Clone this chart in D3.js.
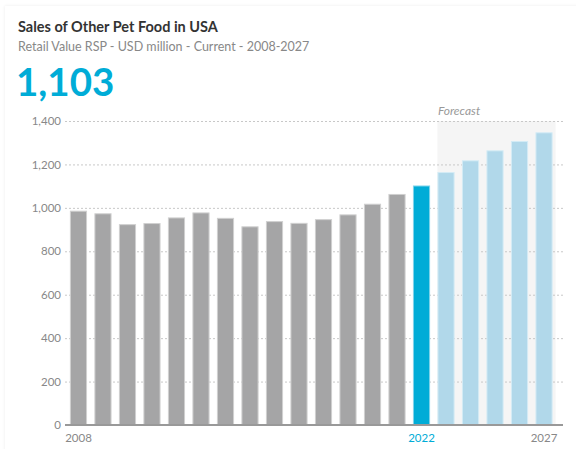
<!DOCTYPE html>
<html>
<head>
<meta charset="utf-8">
<script src="https://cdn.jsdelivr.net/npm/d3@7"></script>
<style>
  html, body { margin: 0; padding: 0; background: #fff; }
  svg { display: block; font-family: Lato, "Open Sans", sans-serif; }
</style>
</head>
<body>
<svg id="chart" width="576" height="449"></svg>
<script>
// Sales of other pet food in the USA, retail value RSP, USD million
const years = [2008, 2009, 2010, 2011, 2012, 2013, 2014, 2015, 2016, 2017,
               2018, 2019, 2020, 2021, 2022, 2023, 2024, 2025, 2026, 2027];
const values = [987, 975, 925, 930, 956, 979, 954, 915, 939, 931,
                948, 970, 1019, 1064, 1103, 1165, 1219, 1265, 1308, 1348];
const currentYear = 2022;
const forecastYears = [2023, 2024, 2025, 2026, 2027];
const yTicks = [0, 200, 400, 600, 800, 1000, 1200, 1400];
const xLabels = [2008, 2022, 2027];

const title = "Sales of Other Pet Food in USA";
const subtitle = "Retail Value RSP - USD million - Current - 2008-2027";

const svg = d3.select("#chart");
const W = 576, H = 449;

// card
const defs = svg.append("defs");
const f = defs.append("filter").attr("id", "shadow")
  .attr("x", "-5%").attr("y", "-5%").attr("width", "110%").attr("height", "110%");
f.append("feDropShadow").attr("dx", 0).attr("dy", 0).attr("stdDeviation", 1.5)
  .attr("flood-color", "#000").attr("flood-opacity", 0.08);
svg.append("rect").attr("x", 5).attr("y", 6).attr("width", W + 10).attr("height", H + 10)
  .attr("fill", "#fff").attr("filter", "url(#shadow)");

// header
svg.append("text").attr("x", 18).attr("y", 32)
  .attr("font-size", 14.5).attr("font-weight", 700).attr("fill", "#333")
  .text(title);
svg.append("text").attr("x", 18).attr("y", 51)
  .attr("font-size", 12.5).attr("fill", "#888")
  .text(subtitle);
svg.append("text").attr("x", 16).attr("y", 96)
  .attr("font-size", 38.5).attr("font-weight", 700).attr("fill", "#00acd7")
  .text(d3.format(",")(values[years.indexOf(currentYear)]));

// scales
const plotLeft = 65, plotRight = 563, plotTop = 121, plotBottom = 425;
const x = d3.scaleBand().domain(years).range([65, 557.5])
  .paddingInner(0.3).paddingOuter(0.2);
const y = d3.scaleLinear().domain([0, 1400]).range([plotBottom, plotTop]);

// forecast band
const fx0 = x(forecastYears[0]);
const fx1 = x(forecastYears[forecastYears.length - 1]) + x.bandwidth() + 3;
svg.append("rect").attr("x", fx0).attr("y", plotTop)
  .attr("width", fx1 - fx0).attr("height", plotBottom - plotTop)
  .attr("fill", "#f5f5f5");
svg.append("text").attr("x", fx0 + 0.5).attr("y", 115)
  .attr("font-size", 12).attr("font-style", "italic").attr("fill", "#999")
  .text("Forecast");

// y axis with gridlines
const yAxis = d3.axisLeft(y).tickValues(yTicks)
  .tickSize(-(plotRight - plotLeft)).tickPadding(4)
  .tickFormat(d3.format(","));
const gy = svg.append("g").attr("transform", `translate(${plotLeft},0)`).call(yAxis);
gy.select(".domain").remove();
gy.selectAll(".tick line").attr("stroke", "#c8c8c8").attr("stroke-dasharray", "2,2")
  .filter(d => d === 0).remove();
gy.selectAll(".tick text").attr("fill", "#888").attr("font-size", 11.5)
  .attr("font-family", "Lato, 'Open Sans', sans-serif");

// bars
function fillFor(yr) {
  if (yr === currentYear) return "#00acd7";
  if (forecastYears.includes(yr)) return "#b1d8ea";
  return "#a5a5a6";
}
function strokeFor(yr) {
  if (yr === currentYear) return "#7fd3ea";
  if (forecastYears.includes(yr)) return "#d4ebf5";
  return "#d0d0d0";
}
svg.append("g").selectAll("rect").data(years).join("rect")
  .attr("x", d => x(d) + 0.5)
  .attr("y", (d, i) => y(values[i]) + 0.5)
  .attr("width", x.bandwidth() - 1)
  .attr("height", (d, i) => plotBottom - y(values[i]) - 0.5)
  .attr("fill", d => fillFor(d))
  .attr("stroke", d => strokeFor(d))
  .attr("stroke-width", 1);

// baseline
svg.append("line").attr("x1", plotLeft).attr("x2", plotRight)
  .attr("y1", plotBottom).attr("y2", plotBottom)
  .attr("stroke", "#999").attr("stroke-width", 2);

// x axis labels
const xAxis = d3.axisBottom(x).tickValues(xLabels).tickSize(0).tickPadding(9);
const gx = svg.append("g").attr("transform", `translate(0,${plotBottom})`).call(xAxis);
gx.select(".domain").remove();
gx.selectAll(".tick text").attr("font-size", 11.5)
  .attr("font-family", "Lato, 'Open Sans', sans-serif")
  .attr("fill", d => d === currentYear ? "#00acd7" : "#888");
</script>
</body>
</html>
